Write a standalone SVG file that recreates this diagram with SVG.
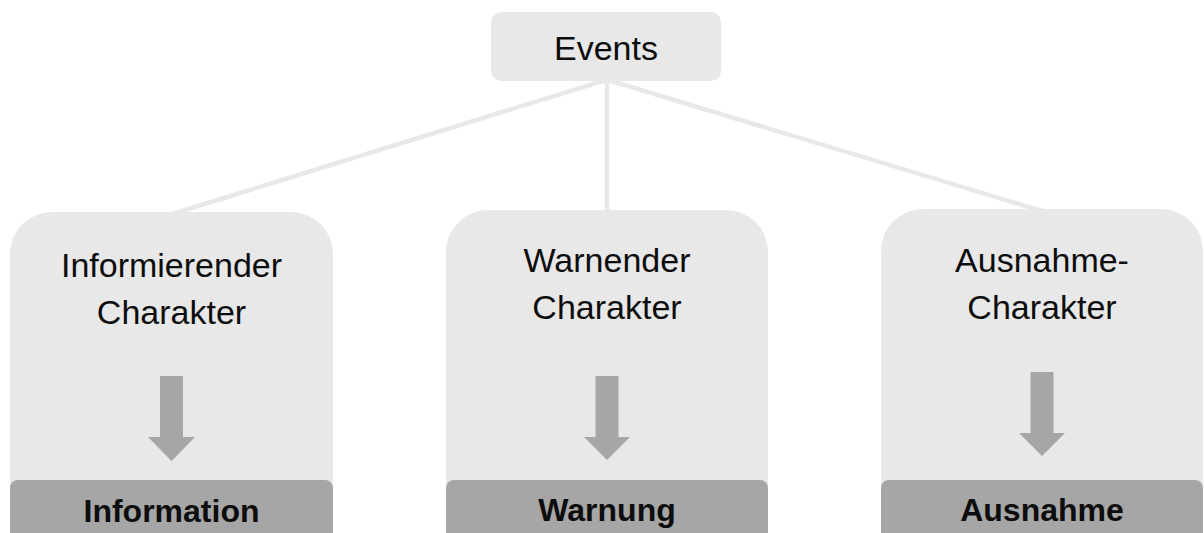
<svg xmlns="http://www.w3.org/2000/svg" width="1204" height="533" viewBox="0 0 1204 533">
  <style>
    .panel { fill: #e8e8e8; }
    .bar { fill: #a6a6a6; }
    .arrow { fill: #a6a6a6; }
    .link { stroke: #e8e8e8; stroke-width: 4.5; fill: none; }
    .lbl { font-family: "Liberation Sans", Arial, sans-serif; font-size: 34px; fill: #0d0d0d; text-anchor: middle; }
    .res { font-family: "Liberation Sans", Arial, sans-serif; font-size: 32px; font-weight: bold; fill: #0d0d0d; text-anchor: middle; }
  </style>
  <rect width="1204" height="533" fill="#ffffff"/>

  <!-- connectors from the root to the three categories -->
  <g id="connectors">
    <line class="link" x1="606" y1="80" x2="172" y2="214"/>
    <line class="link" x1="607" y1="80" x2="607" y2="212"/>
    <line class="link" x1="608" y1="80" x2="1042" y2="211"/>
  </g>

  <g id="events">
    <rect class="panel" x="491" y="12" width="230" height="69" rx="10"/>
    <text class="lbl" x="606" y="60">Events</text>
  </g>

  <g id="informierend">
    <path class="panel" d="M10 533 V254 A42 42 0 0 1 52 212 H291 A42 42 0 0 1 333 254 V533 Z"/>
    <text class="lbl" x="171.5" y="277">Informierender</text>
    <text class="lbl" x="171.5" y="324">Charakter</text>
    <path class="arrow" d="M160 376 H183 V437 H195 L171.5 461 L148 437 H160 Z"/>
    <path class="bar" d="M10 533 V488 A8 8 0 0 1 18 480 H325 A8 8 0 0 1 333 488 V533 Z"/>
    <text class="res" x="171.5" y="522">Information</text>
  </g>

  <g id="warnend">
    <path class="panel" d="M446 533 V252 A42 42 0 0 1 488 210 H726 A42 42 0 0 1 768 252 V533 Z"/>
    <text class="lbl" x="607" y="272">Warnender</text>
    <text class="lbl" x="607" y="319">Charakter</text>
    <path class="arrow" d="M595.5 376 H618.5 V437 H630 L607 460 L584 437 H595.5 Z"/>
    <path class="bar" d="M446 533 V488 A8 8 0 0 1 454 480 H760 A8 8 0 0 1 768 488 V533 Z"/>
    <text class="res" x="607" y="521">Warnung</text>
  </g>

  <g id="ausnahme">
    <path class="panel" d="M881 533 V251 A42 42 0 0 1 923 209 H1161 A42 42 0 0 1 1203 251 V533 Z"/>
    <text class="lbl" x="1042" y="272">Ausnahme-</text>
    <text class="lbl" x="1042" y="319">Charakter</text>
    <path class="arrow" d="M1030.5 372 H1053.5 V433 H1065 L1042 456 L1019 433 H1030.5 Z"/>
    <path class="bar" d="M881 533 V488 A8 8 0 0 1 889 480 H1195 A8 8 0 0 1 1203 488 V533 Z"/>
    <text class="res" x="1042" y="521">Ausnahme</text>
  </g>
</svg>
